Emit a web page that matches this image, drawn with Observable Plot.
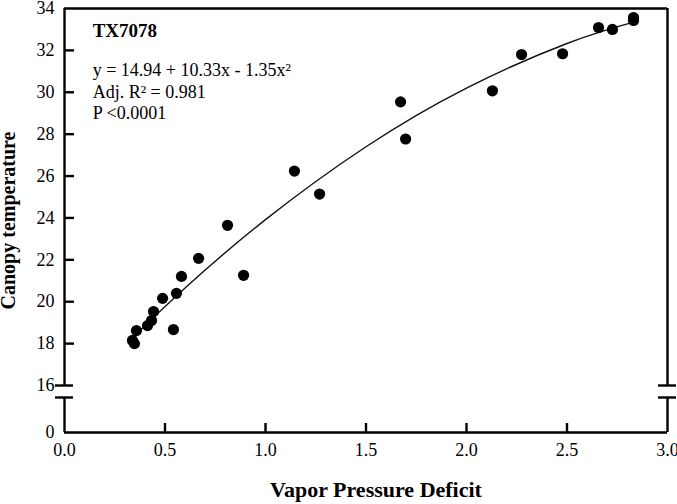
<!DOCTYPE html>
<html>
<head>
<meta charset="utf-8">
<script src="https://cdn.jsdelivr.net/npm/d3@7"></script>
<script src="https://cdn.jsdelivr.net/npm/@observablehq/plot@0.6"></script>
<style>
  html, body { margin: 0; padding: 0; background: #fff; }
  #chart { width: 677px; height: 504px; }
</style>
</head>
<body>
<div id="chart"></div>
<script>
const vpd  = [0.338, 0.348, 0.358, 0.413, 0.433, 0.443, 0.488, 0.542, 0.557, 0.582, 0.667, 0.811, 0.891, 1.144, 1.269, 1.672, 1.697, 2.129, 2.274, 2.478, 2.657, 2.726, 2.831, 2.831];
const temp = [18.15, 18.00, 18.62, 18.86, 19.10, 19.53, 20.16, 18.67, 20.40, 21.21, 22.07, 23.65, 21.26, 26.24, 25.14, 29.54, 27.77, 30.07, 31.80, 31.84, 33.09, 33.00, 33.57, 33.43];

// Fitted curve
const fitX = [0.35, 0.60, 1.00, 1.50, 2.00, 2.50, 2.84];
const fitY = [18.39, 20.66, 23.92, 27.40, 30.20, 32.33, 33.37];

// Axis ticks
const xTicks = [0, 0.5, 1.0, 1.5, 2.0, 2.5, 3.0];
const xInner = [0.5, 1.0, 1.5, 2.0, 2.5];
const yTicks = [0, 16, 18, 20, 22, 24, 26, 28, 30, 32, 34];
const yInner = [18, 20, 22, 24, 26, 28, 30, 32];

// Annotation text
const title = "TX7078";
const noteLines = ["y = 14.94 + 10.33x - 1.35x\u00B2", "Adj. R\u00B2 = 0.981", "P <0.0001"];
const noteY = [31.03, 30.02, 29.02];
const xLabel = "Vapor Pressure Deficit";
const yLabel = "Canopy temperature";

// Broken y axis: lower segment [0, yBreak], upper segment [16, 34]
const yBreak = 1;
const yUpper = [16, 34];
const xDomain = [0, 3];
const breakGap = 0.573;   // blank gap between segments (upper-segment units)
const lowerSpan = 1.671;  // height of lower segment (upper-segment units)
const k = lowerSpan / yBreak;
const yPos = v => v >= yUpper[0] ? v : yUpper[0] - breakGap - (yBreak - v) * k;
const yInv = p => p >= yUpper[0] ? p : yBreak - (yUpper[0] - breakGap - p) / k;

const points = vpd.map((v, i) => ({x: v, y: yPos(temp[i])}));
const fit = fitX.map((v, i) => ({x: v, y: yPos(fitY[i])}));

const font = "'Liberation Serif', 'Times New Roman', serif";
const W = 677, H = 504, mL = 64, mR = 10, mT = 8, mB = 72;
const frameW = W - mL - mR, frameH = H - mT - mB;
const y0 = yPos(0);
const xUnitPx = frameW / (xDomain[1] - xDomain[0]);
const yUnitPx = frameH / (yUpper[1] - y0);
const yTickLen = 10 / xUnitPx;
const xTickLen = 9 / yUnitPx;
const breakHalf = 9 / xUnitPx;

const ink = "#000000";
const sw = 2.4;

const chart = Plot.plot({
  width: W,
  height: H,
  marginLeft: mL,
  marginRight: mR,
  marginTop: mT,
  marginBottom: mB,
  style: {fontFamily: font, fontSize: "18px", color: ink},
  x: {domain: xDomain},
  y: {domain: [y0, yUpper[1]]},
  marks: [
    // bottom axis line and top border
    Plot.ruleY([y0], {x1: xDomain[0], x2: xDomain[1], strokeWidth: sw, stroke: ink}),
    Plot.ruleY([yUpper[1]], {x1: xDomain[0], x2: xDomain[1], strokeWidth: sw, stroke: ink}),
    // left / right borders in two segments
    Plot.ruleX(xDomain, {y1: y0, y2: yPos(yBreak), strokeWidth: sw, stroke: ink}),
    Plot.ruleX(xDomain, {y1: yUpper[0], y2: yUpper[1], strokeWidth: sw, stroke: ink}),
    // break marks
    Plot.ruleY([yPos(yBreak), yUpper[0]], {x1: xDomain[0] - breakHalf, x2: xDomain[0] + breakHalf, strokeWidth: sw, stroke: ink}),
    Plot.ruleY([yPos(yBreak), yUpper[0]], {x1: xDomain[1] - breakHalf, x2: xDomain[1] + breakHalf, strokeWidth: sw, stroke: ink}),
    // inward ticks
    Plot.ruleY(yInner.map(yPos), {x1: xDomain[0], x2: xDomain[0] + yTickLen, strokeWidth: sw, stroke: ink}),
    Plot.ruleX(xInner, {y1: y0, y2: y0 + xTickLen, strokeWidth: sw, stroke: ink}),
    // tick labels
    Plot.axisY({ticks: yTicks.map(yPos), tickSize: 0, tickPadding: 10, fontSize: 18, tickFormat: p => String(Math.round(yInv(p))), label: null}),
    Plot.axisX({ticks: xTicks, tickSize: 0, tickPadding: 11, fontSize: 18, tickFormat: d => d.toFixed(1), label: null}),
    // fitted curve
    Plot.line(fit, {x: "x", y: "y", curve: "natural", stroke: "#111", strokeWidth: 1.4}),
    // observations
    Plot.dot(points, {x: "x", y: "y", r: 5.6, fill: ink, stroke: "none"}),
    // annotation
    Plot.text([title], {x: 0.14, y: 32.95, text: d => d, textAnchor: "start", fontWeight: "bold", fontSize: 19}),
    Plot.text(noteLines, {x: 0.14, y: (d, i) => noteY[i], text: d => d, textAnchor: "start", fontSize: 18}),
    // axis titles
    Plot.text([yLabel], {frameAnchor: "left", text: d => d, rotate: -90, textAnchor: "middle", dx: -56, fontWeight: "bold", fontSize: 20}),
    Plot.text([xLabel], {frameAnchor: "bottom", text: d => d, textAnchor: "middle", dx: 10, dy: 64, fontWeight: "bold", fontSize: 22})
  ]
});
document.getElementById("chart").appendChild(chart);
</script>
</body>
</html>
